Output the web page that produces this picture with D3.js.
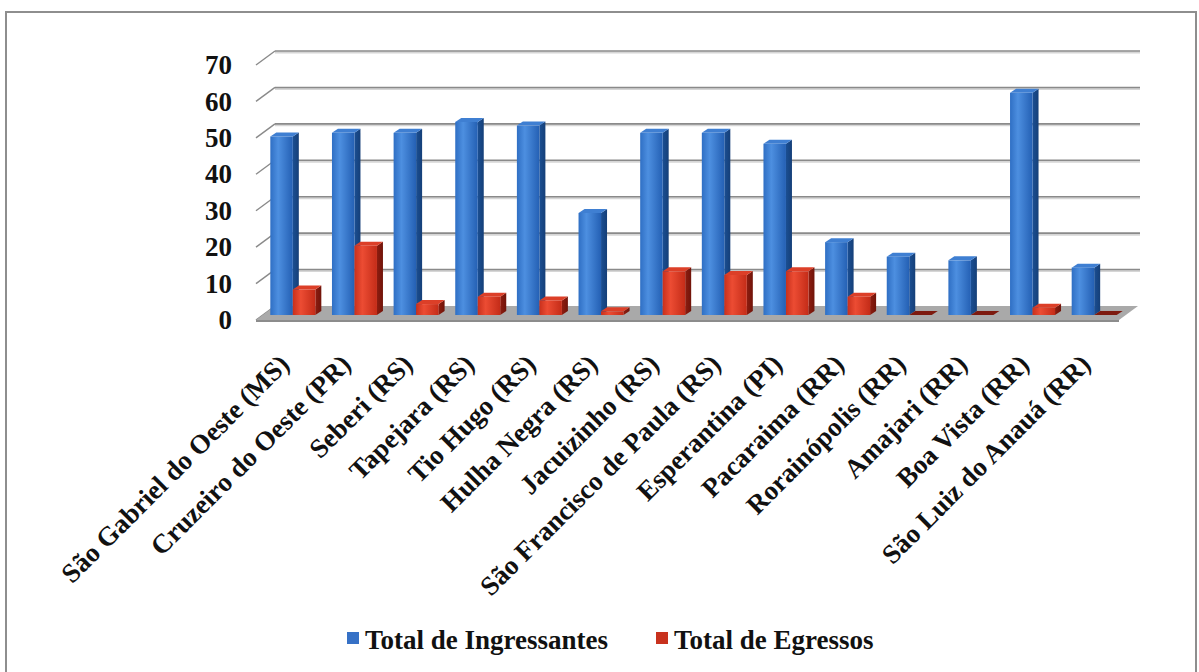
<!DOCTYPE html>
<html>
<head>
<meta charset="utf-8">
<script src="https://cdn.jsdelivr.net/npm/d3@7"></script>
<style>
  body { margin: 0; background: #fff; }
  text { font-family: "Liberation Serif", "Times New Roman", serif; font-weight: bold; fill: #111; }
</style>
</head>
<body>
<div id="chart-area"></div>
<script>
const CATEGORIES = [
  "São Gabriel do Oeste (MS)", "Cruzeiro do Oeste (PR)", "Seberi (RS)", "Tapejara (RS)",
  "Tio Hugo (RS)", "Hulha Negra (RS)", "Jacuizinho (RS)", "São Francisco de Paula (RS)",
  "Esperantina (PI)", "Pacaraima (RR)", "Rorainópolis (RR)", "Amajari (RR)",
  "Boa Vista (RR)", "São Luiz do Anauá (RR)"
]
const INGRESSANTES = [49, 50, 50, 53, 52, 28, 50, 50, 47, 20, 16, 15, 61, 13]
const EGRESSOS = [7, 19, 3, 5, 4, 1, 12, 11, 12, 5, 0, 0, 2, 0]
const Y_TICKS = [0, 10, 20, 30, 40, 50, 60, 70]
const SERIES_NAMES = ["Total de Ingressantes", "Total de Egressos"]

const SVG_WIDTH = 1199
const SVG_HEIGHT = 672
const FONT_SIZE = "27px"
const FLOOR = { left: 256, right: 1119, y: 320 }
const DEPTH = { dx: 19, dy: -14 }      // front -> back wall
const BAR_DEPTH = { dx: 6, dy: -4 }    // thickness of a column
const BAR_OFFSET = -5                  // columns stand a bit behind the front edge

const svg = d3.select("#chart-area").append("svg")
  .attr("width", SVG_WIDTH)
  .attr("height", SVG_HEIGHT)

const defs = svg.append("defs")
function hGrad(id, stops) {
  const g = defs.append("linearGradient").attr("id", id)
    .attr("x1", "0%").attr("x2", "100%").attr("y1", "0%").attr("y2", "0%")
  stops.forEach(s => g.append("stop").attr("offset", s[0]).attr("stop-color", s[1]))
}
hGrad("blueFront", [["0%", "#2f6fc4"], ["35%", "#4d8fe0"], ["100%", "#2460b4"]])
hGrad("blueSide", [["0%", "#1b4f93"], ["100%", "#153f78"]])
hGrad("redFront", [["0%", "#c8301c"], ["35%", "#ec4c33"], ["100%", "#c42c18"]])
hGrad("redSide", [["0%", "#8e1d10"], ["100%", "#70140a"]])

// outer frame
svg.append("rect")
  .attr("x", 6).attr("y", 12)
  .attr("width", 1190).attr("height", 700)
  .attr("fill", "none")
  .attr("stroke", "#8e8e8e")
  .attr("stroke-width", 2)

const y = d3.scaleLinear()
  .domain([0, 70])
  .range([FLOOR.y, 65])

const x = d3.scaleBand()
  .domain(CATEGORIES)
  .range([262, 1125])
  .paddingInner(0.27)
  .paddingOuter(0.135)

// back wall gridlines + left wall diagonals
const grid = svg.append("g")
Y_TICKS.forEach(t => {
  const yf = y(t)
  const yb = yf + DEPTH.dy
  if (t > 0) {
    grid.append("line")
      .attr("x1", FLOOR.left + DEPTH.dx).attr("x2", FLOOR.right + DEPTH.dx + 2)
      .attr("y1", yb + 1.5).attr("y2", yb + 1.5)
      .attr("stroke", "#d6d6d6").attr("stroke-width", 2)
    grid.append("line")
      .attr("x1", FLOOR.left + DEPTH.dx).attr("x2", FLOOR.right + DEPTH.dx + 2)
      .attr("y1", yb).attr("y2", yb)
      .attr("stroke", "#8a8a8a").attr("stroke-width", 1.6)
  }
  grid.append("line")
    .attr("x1", FLOOR.left).attr("x2", FLOOR.left + DEPTH.dx)
    .attr("y1", yf).attr("y2", yb)
    .attr("stroke", "#8a8a8a").attr("stroke-width", 1.4)
})

// floor
const f0 = y(0)
svg.append("polygon")
  .attr("points", [
    [FLOOR.left, f0], [FLOOR.right, f0],
    [FLOOR.right + DEPTH.dx, f0 + DEPTH.dy], [FLOOR.left + DEPTH.dx, f0 + DEPTH.dy]
  ].map(p => p.join(",")).join(" "))
  .attr("fill", "#a9a9a9")
svg.append("line")
  .attr("x1", FLOOR.left).attr("x2", FLOOR.right)
  .attr("y1", f0 + 1).attr("y2", f0 + 1)
  .attr("stroke", "#8c8c8c").attr("stroke-width", 2)

// y tick labels
const yAxis = d3.axisLeft(y).tickValues(Y_TICKS).tickSize(0).tickPadding(0)
const yg = svg.append("g")
  .attr("transform", "translate(232,0)")
  .call(yAxis)
yg.select(".domain").remove()
yg.selectAll("text")
  .attr("font-size", FONT_SIZE)
  .attr("font-family", "Liberation Serif, Times New Roman, serif")
  .attr("font-weight", "bold")
  .attr("fill", "#111")

// columns
const colW = x.bandwidth() / 2
function drawColumn(g, x0, v, colors) {
  const base = y(0) + BAR_OFFSET
  const top = y(v) + BAR_OFFSET
  const bx = BAR_DEPTH.dx, by = BAR_DEPTH.dy
  g.append("polygon")
    .attr("points", [[x0 + colW, top], [x0 + colW + bx, top + by], [x0 + colW + bx, base + by], [x0 + colW, base]]
      .map(p => p.join(",")).join(" "))
    .attr("fill", colors.side)
  if (v > 0) {
    g.append("rect")
      .attr("x", x0).attr("y", top)
      .attr("width", colW).attr("height", base - top)
      .attr("fill", colors.front)
  }
  g.append("polygon")
    .attr("points", [[x0, top], [x0 + bx, top + by], [x0 + colW + bx, top + by], [x0 + colW, top]]
      .map(p => p.join(",")).join(" "))
    .attr("fill", v > 0 ? colors.top : colors.zero)
}
const BLUE = { front: "url(#blueFront)", side: "url(#blueSide)", top: "#3f7fd2", zero: "#1b4f93" }
const RED = { front: "url(#redFront)", side: "url(#redSide)", top: "#dc3f28", zero: "#7d1a0f" }

const cols = svg.append("g")
CATEGORIES.forEach((c, i) => {
  drawColumn(cols, x(c), INGRESSANTES[i], BLUE)
  drawColumn(cols, x(c) + colW, EGRESSOS[i], RED)
})

// category labels
svg.append("g").selectAll("text")
  .data(CATEGORIES)
  .enter().append("text")
  .attr("font-size", FONT_SIZE)
  .attr("text-anchor", "end")
  .attr("transform", d => `translate(${x(d) + x.bandwidth() / 2 - 2}, 366) rotate(-45)`)
  .text(d => d)

// legend
const legend = svg.append("g")
const LEGEND_X = [347, 656]
const LEGEND_COLORS = ["#3671c6", "#c8321e"]
SERIES_NAMES.forEach((name, i) => {
  legend.append("rect")
    .attr("x", LEGEND_X[i]).attr("y", 632)
    .attr("width", 12).attr("height", 12)
    .attr("fill", LEGEND_COLORS[i])
  legend.append("text")
    .attr("x", LEGEND_X[i] + 18).attr("y", 649)
    .attr("font-size", FONT_SIZE)
    .text(name)
})
</script>
</body>
</html>
